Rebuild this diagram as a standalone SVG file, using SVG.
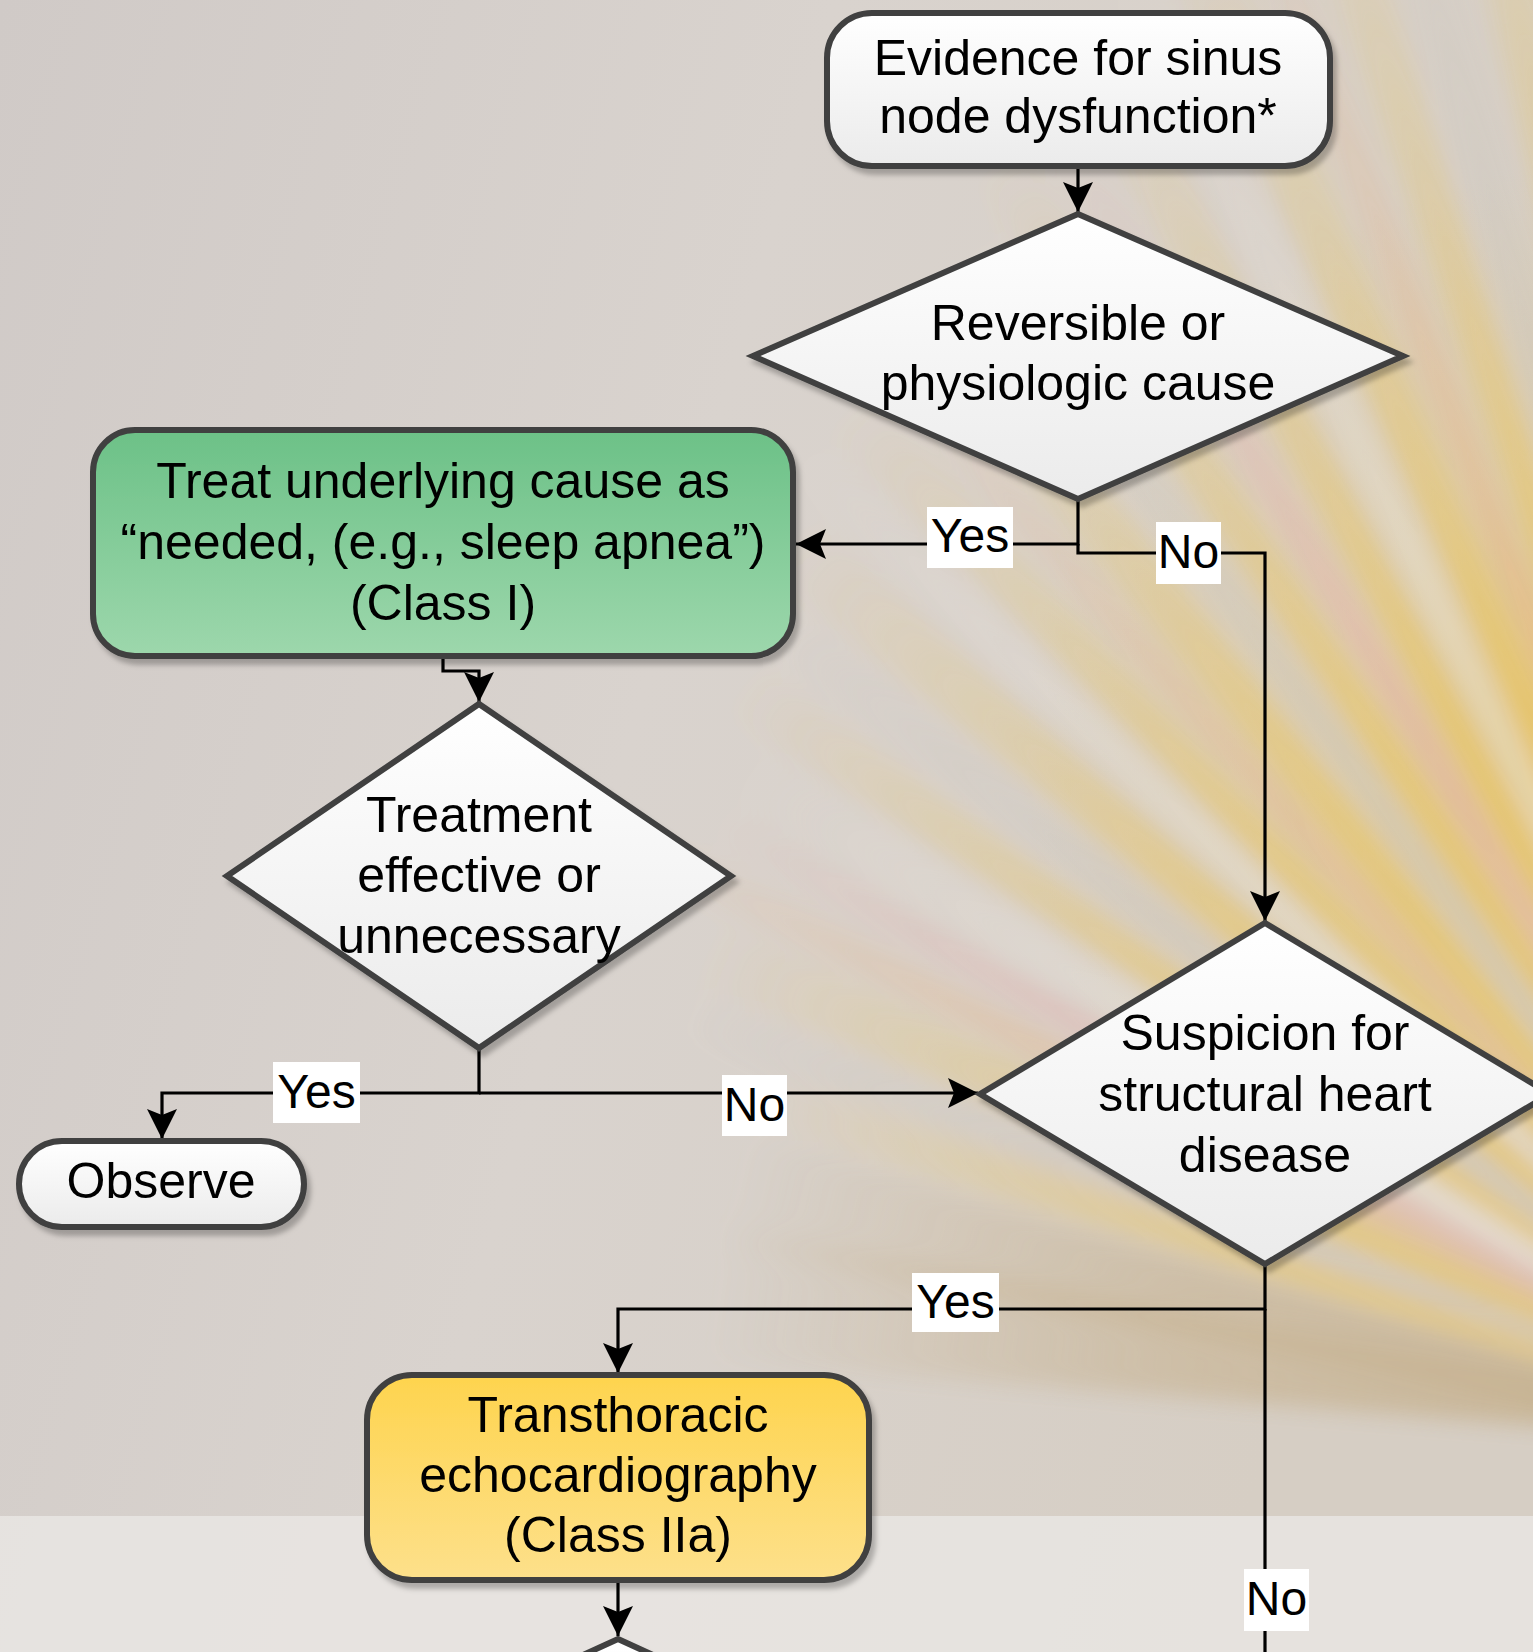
<svg xmlns="http://www.w3.org/2000/svg" width="1533" height="1652" viewBox="0 0 1533 1652">
  <defs>
    <style>
      .lbl { font-family: "Liberation Sans", Arial, sans-serif; font-size: 50px; fill: #000; text-anchor: middle; }
      .tag { font-family: "Liberation Sans", Arial, sans-serif; font-size: 48px; fill: #000; text-anchor: middle; }
      .node { stroke: #404040; stroke-width: 6; filter: url(#shadow); }
      .wire { fill: none; stroke: #000; stroke-width: 3.2; }
      .tagbg { fill: #fff; }
    </style>
    <linearGradient id="gWhite" x1="0" y1="0" x2="0" y2="1">
      <stop offset="0" stop-color="#ffffff"/>
      <stop offset="1" stop-color="#ebebeb"/>
    </linearGradient>
    <linearGradient id="gGreen" x1="0" y1="0" x2="0" y2="1">
      <stop offset="0" stop-color="#6cc187"/>
      <stop offset="1" stop-color="#9dd7ac"/>
    </linearGradient>
    <linearGradient id="gYellow" x1="0" y1="0" x2="0" y2="1">
      <stop offset="0" stop-color="#fed44e"/>
      <stop offset="1" stop-color="#fde08b"/>
    </linearGradient>
    <linearGradient id="bgBase" x1="0" y1="0" x2="1" y2="0.3">
      <stop offset="0" stop-color="#d0cac7"/>
      <stop offset="0.5" stop-color="#d9d3ce"/>
      <stop offset="1" stop-color="#d6cec4"/>
    </linearGradient>
    <radialGradient id="glow" cx="1620" cy="760" r="600" gradientUnits="userSpaceOnUse">
      <stop offset="0" stop-color="#e8c058" stop-opacity="0.75"/>
      <stop offset="0.5" stop-color="#e4ca88" stop-opacity="0.35"/>
      <stop offset="1" stop-color="#e4ca88" stop-opacity="0"/>
    </radialGradient>
    <linearGradient id="rayY" x1="1" y1="0" x2="0" y2="0">
      <stop offset="0" stop-color="#ecc352" stop-opacity="0.85"/>
      <stop offset="0.55" stop-color="#ecc352" stop-opacity="0.5"/>
      <stop offset="1" stop-color="#ecc352" stop-opacity="0"/>
    </linearGradient>
    <linearGradient id="rayO" x1="1" y1="0" x2="0" y2="0">
      <stop offset="0" stop-color="#eeae74" stop-opacity="0.75"/>
      <stop offset="0.55" stop-color="#eeae74" stop-opacity="0.45"/>
      <stop offset="1" stop-color="#eeae74" stop-opacity="0"/>
    </linearGradient>
    <linearGradient id="rayP" x1="1" y1="0" x2="0" y2="0">
      <stop offset="0" stop-color="#eda4a4" stop-opacity="0.65"/>
      <stop offset="0.6" stop-color="#eda4a4" stop-opacity="0.4"/>
      <stop offset="1" stop-color="#eda4a4" stop-opacity="0"/>
    </linearGradient>
    <linearGradient id="rayW" x1="1" y1="0" x2="0" y2="0">
      <stop offset="0" stop-color="#f2eee8" stop-opacity="0.7"/>
      <stop offset="0.6" stop-color="#f2eee8" stop-opacity="0.35"/>
      <stop offset="1" stop-color="#f2eee8" stop-opacity="0"/>
    </linearGradient>
    <linearGradient id="rayG" x1="1" y1="0" x2="0" y2="0">
      <stop offset="0" stop-color="#c9c4bd" stop-opacity="0.8"/>
      <stop offset="0.6" stop-color="#c9c4bd" stop-opacity="0.4"/>
      <stop offset="1" stop-color="#c9c4bd" stop-opacity="0"/>
    </linearGradient>
    <linearGradient id="rayT" x1="1" y1="0" x2="0" y2="0">
      <stop offset="0" stop-color="#c0a77c" stop-opacity="0.85"/>
      <stop offset="0.6" stop-color="#c6b08c" stop-opacity="0.55"/>
      <stop offset="1" stop-color="#c6b08c" stop-opacity="0"/>
    </linearGradient>
    <filter id="soft" x="-20%" y="-20%" width="140%" height="140%">
      <feGaussianBlur stdDeviation="11"/>
    </filter>
    <filter id="shadow" x="-10%" y="-10%" width="125%" height="130%">
      <feDropShadow dx="4" dy="6" stdDeviation="2.5" flood-color="#000" flood-opacity="0.25"/>
    </filter>
    <marker id="arrow" markerUnits="userSpaceOnUse" markerWidth="32" markerHeight="32" refX="30" refY="15" orient="auto" viewBox="0 0 32 32">
      <path d="M30,15 L0,0 L6,15 L0,30 Z" fill="#000"/>
    </marker>
  </defs>

  <!-- backdrop: soft photographic fan of light -->
  <g id="backdrop">
    <rect x="0" y="0" width="1533" height="1652" fill="url(#bgBase)"/>
    <rect x="0" y="0" width="1533" height="1652" fill="url(#glow)"/>
    <g transform="translate(1850,1450)" filter="url(#soft)" opacity="0.95">
      <polygon points="0,0 -1150,-70 -1150,70" fill="url(#rayT)" transform="rotate(8)"/>
      <polygon points="0,0 -1150,-60 -1150,60" fill="url(#rayT)" transform="rotate(13)"/>
      <polygon points="0,0 -1150,-30 -1150,30" fill="url(#rayY)" transform="rotate(18)"/>
      <polygon points="0,0 -1250,-25 -1250,25" fill="url(#rayG)" transform="rotate(20.5)"/>
      <polygon points="0,0 -1250,-35 -1250,35" fill="url(#rayY)" transform="rotate(23.5)"/>
      <polygon points="0,0 -1350,-20 -1350,20" fill="url(#rayO)" transform="rotate(26.5)"/>
      <polygon points="0,0 -1300,-18 -1300,18" fill="url(#rayP)" transform="rotate(29)"/>
      <polygon points="0,0 -1300,-30 -1300,30" fill="url(#rayW)" transform="rotate(31.5)"/>
      <polygon points="0,0 -1350,-30 -1350,30" fill="url(#rayY)" transform="rotate(34.5)"/>
      <polygon points="0,0 -1350,-25 -1350,25" fill="url(#rayG)" transform="rotate(37.5)"/>
      <polygon points="0,0 -1400,-35 -1400,35" fill="url(#rayY)" transform="rotate(40.5)"/>
      <polygon points="0,0 -1450,-20 -1450,20" fill="url(#rayW)" transform="rotate(43.5)"/>
      <polygon points="0,0 -1450,-30 -1450,30" fill="url(#rayY)" transform="rotate(46)"/>
      <polygon points="0,0 -1450,-18 -1450,18" fill="url(#rayO)" transform="rotate(48.5)"/>
      <polygon points="0,0 -1500,-35 -1500,35" fill="url(#rayY)" transform="rotate(51)"/>
      <polygon points="0,0 -1500,-22 -1500,22" fill="url(#rayG)" transform="rotate(54)"/>
      <polygon points="0,0 -1550,-30 -1550,30" fill="url(#rayY)" transform="rotate(56.5)"/>
      <polygon points="0,0 -1550,-20 -1550,20" fill="url(#rayP)" transform="rotate(59)"/>
      <polygon points="0,0 -1600,-30 -1600,30" fill="url(#rayY)" transform="rotate(61.5)"/>
      <polygon points="0,0 -1650,-22 -1650,22" fill="url(#rayW)" transform="rotate(64)"/>
      <polygon points="0,0 -1700,-35 -1700,35" fill="url(#rayY)" transform="rotate(66.5)"/>
      <polygon points="0,0 -1700,-22 -1700,22" fill="url(#rayO)" transform="rotate(69)"/>
      <polygon points="0,0 -1750,-30 -1750,30" fill="url(#rayY)" transform="rotate(71.5)"/>
      <polygon points="0,0 -1750,-25 -1750,25" fill="url(#rayG)" transform="rotate(74)"/>
      <polygon points="0,0 -1800,-30 -1800,30" fill="url(#rayY)" transform="rotate(77)"/>
    </g>
    <!-- pale lower band -->
    <rect x="0" y="1516" width="1533" height="136" fill="#ebe8e5" opacity="0.78"/>
  </g>

  <!-- connectors -->
  <g id="connectors">
    <path class="wire" d="M1078,166 V212" marker-end="url(#arrow)"/>
    <path class="wire" d="M1078,500 V544 H796" marker-end="url(#arrow)"/>
    <path class="wire" d="M1078,544 V553 H1265 V921" marker-end="url(#arrow)"/>
    <path class="wire" d="M443,656 V671 H479 V702" marker-end="url(#arrow)"/>
    <path class="wire" d="M479,1048 V1093 H162 V1139" marker-end="url(#arrow)"/>
    <path class="wire" d="M479,1093 H978" marker-end="url(#arrow)"/>
    <path class="wire" d="M1265,1264 V1309 H618 V1373" marker-end="url(#arrow)"/>
    <path class="wire" d="M1265,1309 V1652"/>
    <path class="wire" d="M618,1582 V1636" marker-end="url(#arrow)"/>

    <rect class="tagbg" x="927" y="507" width="86" height="61"/>
    <text class="tag" x="970" y="552">Yes</text>
    <rect class="tagbg" x="1156" y="522" width="65" height="62"/>
    <text class="tag" x="1188.5" y="568">No</text>
    <rect class="tagbg" x="273" y="1062" width="87" height="61"/>
    <text class="tag" x="316.5" y="1108">Yes</text>
    <rect class="tagbg" x="722" y="1075" width="65" height="61"/>
    <text class="tag" x="754.5" y="1121">No</text>
    <rect class="tagbg" x="912" y="1273" width="87" height="59"/>
    <text class="tag" x="955.5" y="1318">Yes</text>
    <rect class="tagbg" x="1244" y="1569" width="65" height="62"/>
    <text class="tag" x="1276.5" y="1615">No</text>
  </g>

  <g id="node-evidence">
    <rect class="node" x="827" y="13" width="503" height="153" rx="45" fill="url(#gWhite)"/>
    <text class="lbl" x="1078" y="75">Evidence for sinus</text>
    <text class="lbl" x="1078" y="133">node dysfunction*</text>
  </g>

  <g id="node-reversible">
    <polygon class="node" points="753,356 1078,214 1403,356 1078,499" fill="url(#gWhite)"/>
    <text class="lbl" x="1078" y="340">Reversible or</text>
    <text class="lbl" x="1078" y="400">physiologic cause</text>
  </g>

  <g id="node-treat">
    <rect class="node" x="93" y="430" width="700" height="226" rx="42" fill="url(#gGreen)"/>
    <text class="lbl" x="443" y="498">Treat underlying cause as</text>
    <text class="lbl" x="443" y="559">“needed, (e.g., sleep apnea”)</text>
    <text class="lbl" x="443" y="620">(Class I)</text>
  </g>

  <g id="node-effective">
    <polygon class="node" points="227,876 479,704 731,876 479,1048" fill="url(#gWhite)"/>
    <text class="lbl" x="479" y="832">Treatment</text>
    <text class="lbl" x="479" y="892">effective or</text>
    <text class="lbl" x="479" y="953">unnecessary</text>
  </g>

  <g id="node-observe">
    <rect class="node" x="19" y="1141" width="285" height="86" rx="43" fill="url(#gWhite)"/>
    <text class="lbl" x="161" y="1198">Observe</text>
  </g>

  <g id="node-structural">
    <polygon class="node" points="980,1094 1265,923 1550,1094 1265,1264" fill="url(#gWhite)"/>
    <text class="lbl" x="1265" y="1050">Suspicion for</text>
    <text class="lbl" x="1265" y="1111">structural heart</text>
    <text class="lbl" x="1265" y="1172">disease</text>
  </g>

  <g id="node-echo">
    <rect class="node" x="367" y="1375" width="502" height="205" rx="45" fill="url(#gYellow)"/>
    <text class="lbl" x="618" y="1432">Transthoracic</text>
    <text class="lbl" x="618" y="1492">echocardiography</text>
    <text class="lbl" x="618" y="1552">(Class IIa)</text>
  </g>

  <g id="node-next">
    <polygon class="node" points="618,1639 948,1790 618,1942 288,1790" fill="url(#gWhite)"/>
  </g>
</svg>
